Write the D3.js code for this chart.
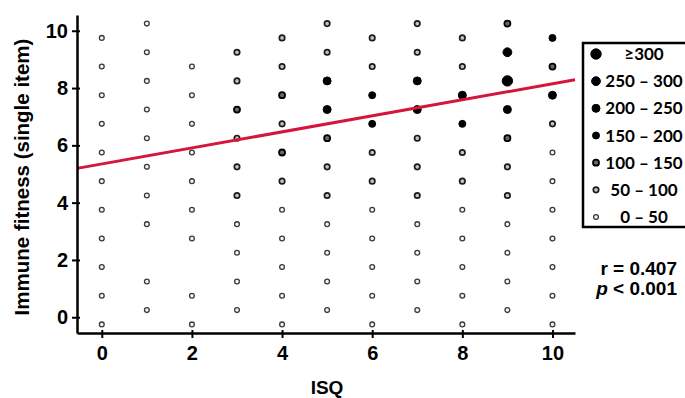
<!DOCTYPE html>
<html>
<head>
<meta charset="utf-8">
<script src="https://cdn.jsdelivr.net/npm/d3@7"></script>
<style>
  body { margin: 0; background: #fff; }
  svg { display: block; }
  .axis path, .axis line { stroke: #000; }
  .axis text { font-family: 'Liberation Sans', Arial, sans-serif; font-weight: bold; font-size: 20px; fill: #000; }
</style>
</head>
<body>
<svg id="chart" width="685" height="398"></svg>
<script>
// data begin ----------------------------------
const isqValues = [0, 1, 2, 3, 4, 5, 6, 7, 8, 9, 10];
const immuneLevels = [0, 1, 2, 3, 4, 5, 6, 7, 8, 9, 10];
const xTicks = [0, 2, 4, 6, 8, 10];
const yTicks = [0, 2, 4, 6, 8, 10];
// count bin per cell: rows = ISQ, columns = immune fitness 0..10 (-1 = no respondents)
const binIsq0 = [0, 0, 0, 0, 0, 0, 0, 0, 0, 0, 0];
const binIsq1 = [0, 0, -1, 0, 0, 0, 0, 0, 0, 0, 0];
const binIsq2 = [0, 0, -1, 0, 0, 0, 0, 0, 0, 0, -1];
const binIsq3 = [0, 0, 0, 0, 1, 1, 1, 2, 1, 1, -1];
const binIsq4 = [0, 0, 0, 0, 0, 1, 2, 1, 2, 1, 1];
const binIsq5 = [0, 0, 0, 0, 1, 1, 2, 4, 4, 1, 1];
const binIsq6 = [0, 0, 0, 0, 0, 1, 1, 3, 3, 1, 1];
const binIsq7 = [0, 0, 0, 0, 1, 1, 1, 4, 4, 1, 1];
const binIsq8 = [0, 0, 0, 0, 0, 1, 1, 3, 4, 1, 1];
const binIsq9 = [0, 0, 0, 0, 1, 1, 2, 4, 6, 5, 2];
const binIsq10 = [0, 0, 0, 0, 0, 0, 0, 1, 4, 2, 3];
const binLabels = ['0 – 50', '50 – 100', '100 – 150', '150 – 200', '200 – 250', '250 – 300', '\u2265300'];
const fitIntercept = 5.35;
const fitSlope = 0.28;
const statR = 'r = 0.407';
const statP = '< 0.001';
// data end ----------------------------------

const bins = [binIsq0, binIsq1, binIsq2, binIsq3, binIsq4, binIsq5, binIsq6, binIsq7, binIsq8, binIsq9, binIsq10];
const binRadius = [2.4, 2.7, 3.0, 3.5, 4.0, 4.4, 5.2];
const binFill = ['#f6f6f6', '#c4c4c4', '#6a6a6a', '#000', '#000', '#000', '#000'];
const binStroke = ['#3a3a3a', '#1a1a1a', '#000', '#000', '#000', '#000', '#000'];
const binStrokeW = [1.3, 1.7, 1.8, 1, 1, 1, 1];

const svg = d3.select('#chart');
const x = d3.scaleLinear().domain([-0.55, 10.5]).range([77, 575]);
const y = d3.scaleLinear().domain([-0.55, 10.55]).range([333, 15]);

// points (jittered: even ISQ shifted down, odd up)
const points = [];
isqValues.forEach((q, i) => {
    immuneLevels.forEach((v, j) => {
        const b = bins[i][j];
        if (b >= 0) points.push({ isq: q, imm: v + (q % 2 === 0 ? -0.25 : 0.25), bin: b });
    });
});

svg.append('g').selectAll('circle').data(points).enter().append('circle')
    .attr('cx', d => x(d.isq))
    .attr('cy', d => y(d.imm))
    .attr('r', d => binRadius[d.bin])
    .attr('fill', d => binFill[d.bin])
    .attr('stroke', d => binStroke[d.bin])
    .attr('stroke-width', d => binStrokeW[d.bin]);

// regression line
const x0 = x.domain()[0], x1 = x.domain()[1];
svg.append('line')
    .attr('x1', x(x0)).attr('y1', y(fitIntercept + fitSlope * x0))
    .attr('x2', x(x1)).attr('y2', y(fitIntercept + fitSlope * x1))
    .attr('stroke', '#d4163c').attr('stroke-width', 3);

// axes
const xAxis = svg.append('g').attr('class', 'axis').attr('transform', 'translate(0,333)')
    .call(d3.axisBottom(x).tickValues(xTicks).tickSize(5).tickPadding(8).tickSizeOuter(0));
xAxis.select('.domain').attr('stroke-width', 2.5);
xAxis.selectAll('.tick line').attr('y1', -3).attr('stroke-width', 2);

const yAxis = svg.append('g').attr('class', 'axis').attr('transform', 'translate(77,0)')
    .call(d3.axisLeft(y).tickValues(yTicks).tickSize(5).tickPadding(4).tickSizeOuter(0));
yAxis.select('.domain').attr('stroke-width', 2.5);
yAxis.selectAll('.tick line').attr('x1', 3).attr('stroke-width', 2);

svg.append('text')
    .attr('x', 327).attr('y', 394)
    .attr('text-anchor', 'middle')
    .style('font-family', "'Liberation Sans', Arial, sans-serif")
    .style('font-weight', 'bold').style('font-size', '19px')
    .text('ISQ');

svg.append('text')
    .attr('transform', 'translate(29,177) rotate(-90)')
    .attr('text-anchor', 'middle')
    .style('font-family', "'Liberation Sans', Arial, sans-serif")
    .style('font-weight', 'bold').style('font-size', '20.5px')
    .text('Immune fitness (single item)');

// legend
const legend = svg.append('g');
legend.append('rect')
    .attr('x', 583).attr('y', 43).attr('width', 120).attr('height', 184)
    .attr('fill', 'none').attr('stroke', '#000').attr('stroke-width', 2.5);
const order = d3.range(binLabels.length).reverse();
const ly = d3.scalePoint().domain(order).range([54, 217]);
order.forEach(b => {
    legend.append('circle')
        .attr('cx', 596).attr('cy', ly(b))
        .attr('r', b === 6 ? 5.2 : binRadius[b])
        .attr('fill', binFill[b]).attr('stroke', binStroke[b]).attr('stroke-width', binStrokeW[b]);
    legend.append('text')
        .attr('x', 644).attr('y', ly(b) + 6)
        .attr('text-anchor', 'middle')
        .style('font-family', 'Lato, sans-serif')
        .style('font-weight', 'bold').style('font-size', '17px')
        .text(binLabels[b]);
});

// stats
svg.append('text')
    .attr('x', 677).attr('y', 275).attr('text-anchor', 'end')
    .style('font-family', "'Liberation Sans', Arial, sans-serif")
    .style('font-weight', 'bold').style('font-size', '19px')
    .text(statR);
const pt = svg.append('text')
    .attr('x', 677).attr('y', 295).attr('text-anchor', 'end')
    .style('font-family', "'Liberation Sans', Arial, sans-serif")
    .style('font-weight', 'bold').style('font-size', '19px');
pt.append('tspan').style('font-style', 'italic').text('p');
pt.append('tspan').text(' ' + statP);
</script>
</body>
</html>
